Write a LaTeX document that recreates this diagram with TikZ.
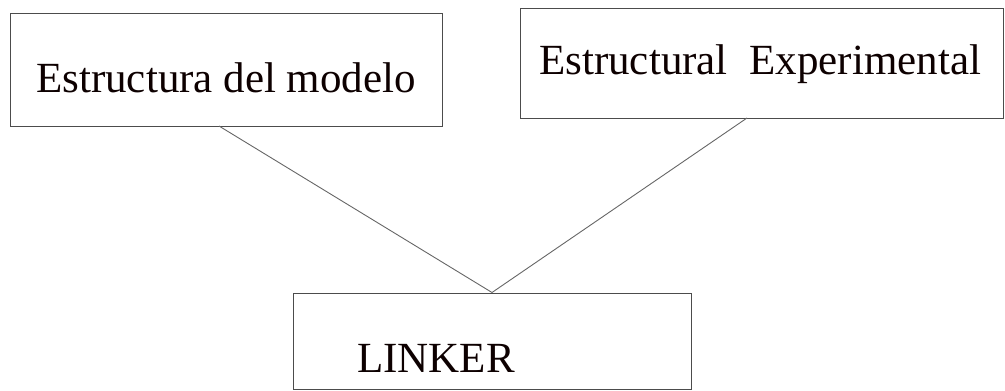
\documentclass[tikz,border=0pt]{standalone}
\usepackage{fontspec}
\setmainfont{Liberation Serif}
\begin{document}
\begin{tikzpicture}[x=1pt,y=-1pt,
  box/.style={draw=black!70,line width=1pt,inner sep=0pt},
  lbl/.style={anchor=base west,inner sep=0pt,text=black!95!red,font=\fontsize{43}{50}\selectfont},
  link/.style={draw=black!60,line width=0.9pt}]
  \useasboundingbox (0,0) rectangle (1005,391);
  % boxes
  \node[box,minimum width=432pt,minimum height=113pt] (model) at (226,69.5) {};
  \node[box,minimum width=483pt,minimum height=110pt] (exper) at (762,63) {};
  \node[box,minimum width=398pt,minimum height=96pt] (linker) at (492,341) {};
  % labels
  \node[lbl] (tmodel) at (36,92) {Estructura del modelo};
  \node[lbl] (texper) at (539,74) {Estructural\ \ Experimental};
  \node[lbl] (tlinker) at (357,372) {LINKER};
  % connectors
  \coordinate (mA) at (219,126);
  \coordinate (eA) at (747,118);
  \draw[link] (mA) -- (linker.north);
  \draw[link] (eA) -- (linker.north);
\end{tikzpicture}
\end{document}
